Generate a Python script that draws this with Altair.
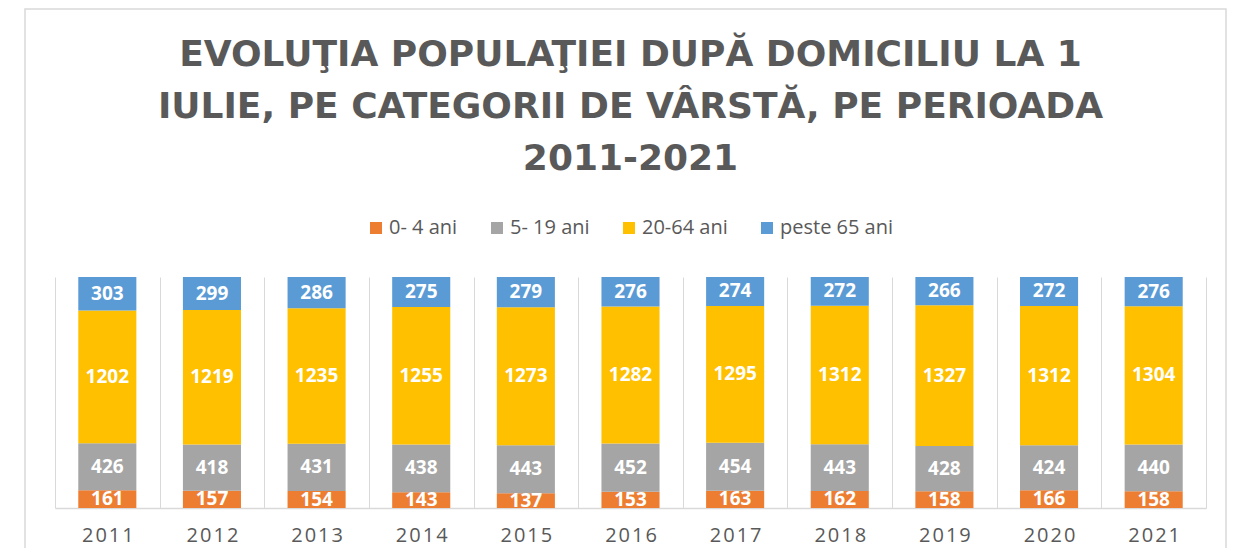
import altair as alt
import pandas as pd

years = ["2011", "2012", "2013", "2014", "2015", "2016", "2017", "2018", "2019", "2020", "2021"]
age_groups = ["0- 4 ani", "5- 19 ani", "20-64 ani", "peste 65 ani"]
colors = ["#ED7D31", "#A5A5A5", "#FFC000", "#5B9BD5"]
v_0_4 = [161, 157, 154, 143, 137, 153, 163, 162, 158, 166, 158]
v_5_19 = [426, 418, 431, 438, 443, 452, 454, 443, 428, 424, 440]
v_20_64 = [1202, 1219, 1235, 1255, 1273, 1282, 1295, 1312, 1327, 1312, 1304]
v_65 = [303, 299, 286, 275, 279, 276, 274, 272, 266, 272, 276]

title_lines = [
    "EVOLUŢIA POPULAŢIEI DUPĂ DOMICILIU LA 1",
    "IULIE, PE CATEGORII DE VÂRSTĂ, PE PERIOADA",
    "2011-2021",
]

rows = []
for gi, (g, vals) in enumerate(zip(age_groups, [v_0_4, v_5_19, v_20_64, v_65])):
    for yr, v in zip(years, vals):
        rows.append({"an": yr, "grupa": g, "ord": gi, "val": v})
df = pd.DataFrame(rows)

base = (
    alt.Chart(df)
    .transform_joinaggregate(total="sum(val)", groupby=["an"])
    .transform_window(cum="sum(val)", groupby=["an"], sort=[alt.SortField("ord")], frame=[None, 0])
    .transform_calculate(
        lo="(datum.cum - datum.val) / datum.total",
        hi="datum.cum / datum.total",
        mid="(datum.cum - datum.val / 2) / datum.total",
    )
)

x_enc = alt.X(
    "an:N",
    title=None,
    sort=years,
    scale=alt.Scale(paddingInner=0, paddingOuter=0),
    axis=alt.Axis(
        tickBand="extent",
        grid=True,
        gridColor="#d9d9d9",
        gridWidth=1,
        ticks=False,
        domainColor="#d9d9d9",
        domainWidth=1.5,
        labelFont="Open Sans",
        labelFontSize=20,
        labelColor="#595959",
        labelPadding=17,
        labelAngle=0,
        labelExpr="join(split(datum.label, ''), '\u200a')",
    ),
)
y_scale = alt.Scale(domain=[0, 1])

bars = base.mark_bar(width=alt.RelativeBandSize(0.555)).encode(
    x=x_enc,
    y=alt.Y("lo:Q", scale=y_scale, axis=None),
    y2="hi:Q",
    color=alt.Color(
        "grupa:N",
        sort=age_groups,
        scale=alt.Scale(domain=age_groups, range=colors),
        legend=alt.Legend(
            orient="none",
            legendX=311,
            legendY=-59,
            direction="horizontal",
            title=None,
            symbolType="square",
            symbolSize=144,
            symbolStrokeWidth=0,
            labelFont="Open Sans",
            labelFontSize=20,
            labelColor="#595959",
            labelOffset=3,
            columnPadding=29,
        ),
    ),
)

labels = base.mark_text(
    font="Open Sans", fontSize=19, fontWeight="bold", color="white", baseline="middle"
).encode(
    x=x_enc,
    y=alt.Y("mid:Q", scale=y_scale, axis=None),
    text="val:Q",
)

frame = alt.Chart(alt.Data(values=[{}])).mark_rect(
    fillOpacity=0, stroke="#d9d9d9", strokeWidth=1.5
).encode(
    x=alt.value(-30), x2=alt.value(1171), y=alt.value(-268), y2=alt.value(400)
)

chart = (
    alt.layer(frame, bars, labels)
    .properties(
        width=1151,
        height=231,
        autosize=alt.AutoSizeParams(type="none"),
        padding={"left": 47, "top": 269, "right": 21, "bottom": 40},
        title=alt.Title(
            title_lines,
            font="DejaVu Sans",
            fontSize=36,
            fontWeight="bold",
            color="#595959",
            anchor="middle",
            lineHeight=52,
            offset=-170,
        ),
        background="white",
    )
    .configure_view(strokeWidth=0)
)

chart.save("out.html", embed_options={"renderer": "svg", "actions": False})
